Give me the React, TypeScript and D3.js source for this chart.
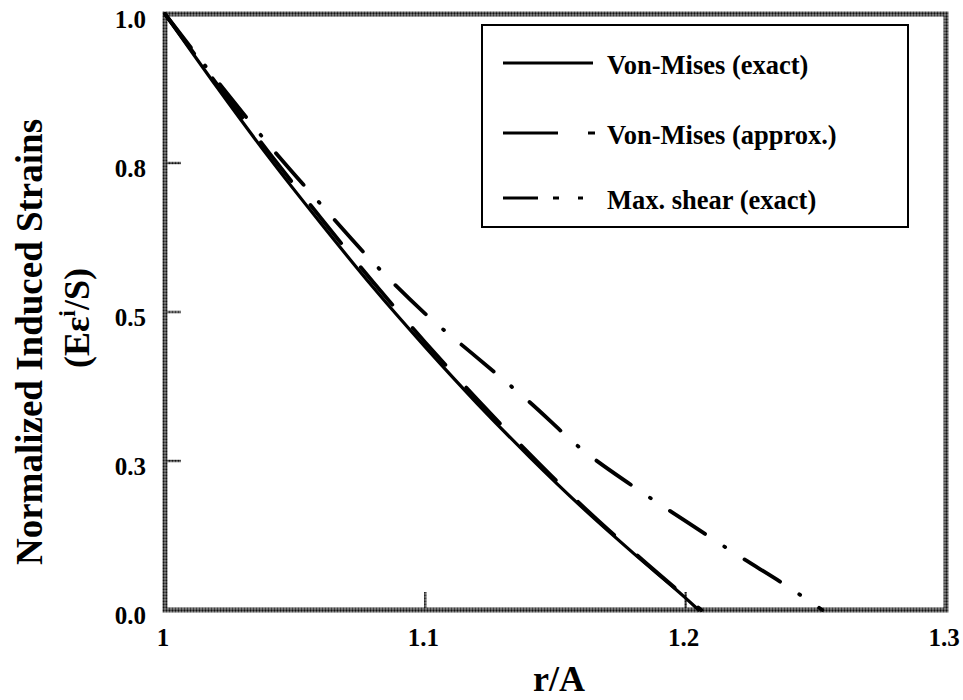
import React from 'react';
import * as d3 from 'd3';

// Normalized induced strain vs. radial position r/A
const rExact = [1.0, 1.02, 1.04, 1.06, 1.08, 1.1, 1.12, 1.14, 1.16, 1.18, 1.2, 1.205];
const vmExact = [1.0, 0.877, 0.759, 0.648, 0.541, 0.441, 0.346, 0.257, 0.173, 0.095, 0.02, 0.0];

const rApprox = [1.0, 1.02, 1.04, 1.06, 1.08, 1.1, 1.12, 1.14, 1.16, 1.18, 1.2, 1.206];
const vmApprox = [1.0, 0.882, 0.767, 0.657, 0.55, 0.449, 0.353, 0.262, 0.176, 0.097, 0.022, 0.0];

const rShear = [1.0, 1.02, 1.04, 1.06, 1.08, 1.1, 1.12, 1.14, 1.16, 1.18, 1.2, 1.22, 1.24, 1.2525];
const maxShear = [1.0, 0.888, 0.78, 0.68, 0.583, 0.497, 0.423, 0.349, 0.27, 0.207, 0.149, 0.092, 0.037, 0.0];

const xTicks = [1, 1.1, 1.2, 1.3];
const xTickLabels = ['1', '1.1', '1.2', '1.3'];
const yTicks = [0, 0.25, 0.5, 0.75, 1.0];
const yTickLabels = ['0.0', '0.3', '0.5', '0.8', '1.0'];
const seriesNames = ['Von-Mises (exact)', 'Von-Mises (approx.)', 'Max. shear (exact)'];

const W = 963;
const H = 700;
const left = 165;
const right = 946;
const top = 14;
const bottom = 610;
const FONT = "'Liberation Serif', 'DejaVu Serif', serif";

export default function App() {
  const x = d3.scaleLinear().domain([1, 1.3]).range([left, right]);
  const y = d3.scaleLinear().domain([0, 1]).range([bottom, top]);

  const line = (rs: number[], vs: number[]) =>
    d3
      .line<number>()
      .x((_, i) => x(rs[i]))
      .y((v) => y(v))
      .curve(d3.curveMonotoneX)(vs) as string;

  const series = [
    { name: seriesNames[0], d: line(rExact, vmExact), dash: undefined, width: 3.2 },
    { name: seriesNames[1], d: line(rApprox, vmApprox), dash: '49 31', width: 3.8 },
    { name: seriesNames[2], d: line(rShear, maxShear), dash: '42 23 1 23', width: 3.8 },
  ];

  const legendX = 482;
  const legendY = 25;
  const legendW = 426;
  const legendH = 202;
  const rowY = [63, 133, 198];
  const sampleDash = [undefined, '55 30 7 40', '35 15 6 19 6 40'];
  const sampleEnd = [593, 595, 583];

  const textStyle = { fontFamily: FONT, fontWeight: 'bold' as const };

  return (
    <svg
      width={W}
      height={H}
      style={{ position: 'absolute', left: 0, top: 0, background: '#fff', ...textStyle }}
    >
      <defs>
        <pattern id="grain" width="3" height="3" patternUnits="userSpaceOnUse">
          <rect width="3" height="3" fill="#8a8a8a" />
          <circle cx="1.5" cy="1.5" r="1.15" fill="#111" />
        </pattern>
      </defs>
      <rect x={0} y={0} width={W} height={H} fill="#fff" />

      {/* y ticks, inward from the left frame */}
      {yTicks.map((t) => (
        <line key={'yt' + t} x1={left} x2={left + 16} y1={y(t)} y2={y(t)} stroke="url(#grain)" strokeWidth={2.5} />
      ))}
      {/* x ticks, inward from the bottom frame */}
      {xTicks.map((t) => (
        <line key={'xt' + t} x1={x(t)} x2={x(t)} y1={bottom} y2={bottom - 18} stroke="url(#grain)" strokeWidth={2.5} />
      ))}

      {/* plot frame */}
      <rect
        x={left}
        y={top}
        width={right - left}
        height={bottom - top}
        fill="none"
        stroke="url(#grain)"
        strokeWidth={5}
      />

      {/* curves */}
      {series.map((s) => (
        <path
          key={s.name}
          d={s.d}
          fill="none"
          stroke="#000"
          strokeWidth={s.width}
          strokeDasharray={s.dash}
          strokeLinecap="round"
          strokeLinejoin="round"
        />
      ))}

      {/* y tick labels */}
      {yTicks.map((t, i) => (
        <text key={'yl' + t} x={146} y={y(t) + 14} textAnchor="end" fontSize={25} fill="#000" style={textStyle}>
          {yTickLabels[i]}
        </text>
      ))}
      {/* x tick labels */}
      {xTicks.map((t, i) => (
        <text key={'xl' + t} x={x(t) - 2} y={646} textAnchor="middle" fontSize={25} fill="#000" style={textStyle}>
          {xTickLabels[i]}
        </text>
      ))}

      {/* axis titles */}
      <text x={559} y={691} textAnchor="middle" fontSize={36} fill="#000" style={textStyle}>
        r/A
      </text>
      <text
        transform="translate(42,342) rotate(-90)"
        textAnchor="middle"
        fontSize={37}
        fill="#000"
        style={textStyle}
      >
        Normalized Induced Strains
      </text>
      <text
        transform="translate(89,318) rotate(-90)"
        textAnchor="middle"
        fontSize={36}
        fill="#000"
        style={textStyle}
      >
        (Eε<tspan dy={-14} fontSize={24}>i</tspan>
        <tspan dy={14}>/S)</tspan>
      </text>

      {/* legend */}
      <rect x={legendX} y={legendY} width={legendW} height={legendH} fill="#fff" stroke="#000" strokeWidth={2} />
      {series.map((s, i) => (
        <g key={'lg' + i}>
          <line
            x1={503}
            x2={sampleEnd[i]}
            y1={rowY[i]}
            y2={rowY[i]}
            stroke="#000"
            strokeWidth={3}
            strokeDasharray={sampleDash[i]}
          />
          <text x={607} y={rowY[i] + 11} fontSize={26.5} fill="#000" style={textStyle}>
            {s.name}
          </text>
        </g>
      ))}
    </svg>
  );
}
